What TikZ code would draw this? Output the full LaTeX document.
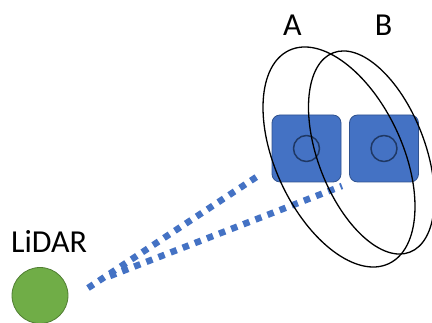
\documentclass[tikz,border=0pt]{standalone}
\usepackage{fontspec}
\setmainfont{Carlito}
\definecolor{beam}{HTML}{4472C4}
\definecolor{beamdark}{HTML}{2F528F}
\definecolor{lens}{HTML}{1F3864}
\definecolor{sensor}{HTML}{70AD47}
\definecolor{sensordark}{HTML}{507E32}
\begin{document}
\begin{tikzpicture}[x=1pt,y=1pt, line join=round, font=\fontsize{32}{38}\selectfont]
 \useasboundingbox (0,0) rectangle (432,323);
 \tikzset{beamline/.style={beam, line width=6.5pt, dash pattern=on 6.5pt off 6.5pt},
  cambox/.style={draw=beamdark, fill=beam, line width=0.8pt, rounded corners=8pt, minimum width=69pt, minimum height=67pt},
  ring/.style={draw, line width=1.3pt}}
 % LiDAR
 \node[circle, draw=sensordark, fill=sensor, line width=0.8pt, minimum size=56pt, inner sep=0pt] (lidar) at (40,27.5) {};
 \node[anchor=base west, inner sep=0pt] (lidarlbl) at (11,70) {LiDAR};
 % rays
 \coordinate (rayAs) at (88,35);  \coordinate (rayAe) at (258,147);
 \coordinate (rayBs) at (110,47); \coordinate (rayBe) at (342,137);
 \draw[beamline] (rayAs)--(rayAe);
 \draw[beamline] (rayBs)--(rayBe);
 % cameras
 \foreach \n/\x/\lx in {A/306.5/292.5,B/384/383.5}{
  \node[cambox] (box\n) at (\x,174.5) {};
  \draw[lens, line width=1.5pt] (box\n.center) circle (13);
  \node[anchor=base, inner sep=0pt] (lbl\n) at (\lx,287) {\n};
 }
 % fields of view
 \draw[ring] (339,166) ellipse[x radius=117.7, y radius=63.4, rotate=-65];
 \draw[ring] (371.5,170.5) ellipse[x radius=106.8, y radius=53.6, rotate=-69];
\end{tikzpicture}
\end{document}
